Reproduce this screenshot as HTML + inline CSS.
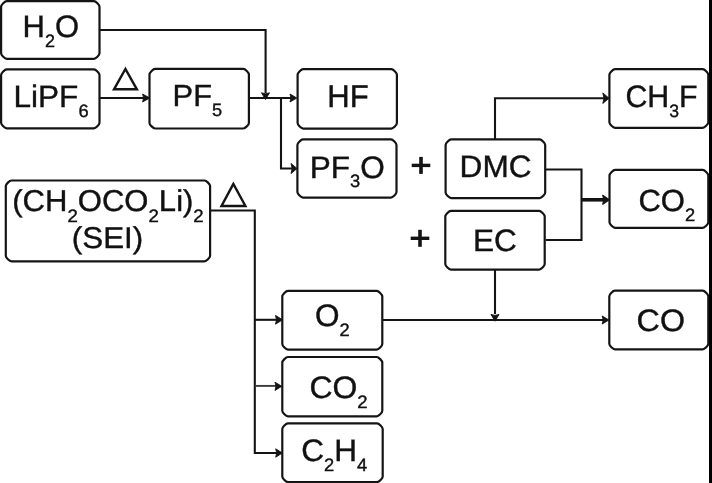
<!DOCTYPE html>
<html><head><meta charset="utf-8"><style>
html,body{margin:0;padding:0;background:#fff;width:712px;height:483px;overflow:hidden;font-family:"Liberation Sans",sans-serif;}
svg{display:block;will-change:transform;}
</style></head><body>
<svg width="712" height="483" viewBox="0 0 712 483">
<rect x="0" y="0" width="712" height="483" fill="#fff"/>
<g fill="none" stroke="#141414" stroke-width="2.2" stroke-linejoin="round">
<path d="M6.70,1.10H93.90C95.75,1.10 99.50,4.85 99.50,6.70V53.30C99.50,55.15 95.75,58.90 93.90,58.90H6.70C4.85,58.90 1.10,55.15 1.10,53.30V6.70C1.10,4.85 4.85,1.10 6.70,1.10Z"/><path d="M6.70,69.30H93.90C95.75,69.30 99.50,73.05 99.50,74.90V122.80C99.50,124.65 95.75,128.40 93.90,128.40H6.70C4.85,128.40 1.10,124.65 1.10,122.80V74.90C1.10,73.05 4.85,69.30 6.70,69.30Z"/><path d="M155.10,68.90H243.30C245.15,68.90 248.90,72.65 248.90,74.50V122.90C248.90,124.75 245.15,128.50 243.30,128.50H155.10C153.25,128.50 149.50,124.75 149.50,122.90V74.50C149.50,72.65 153.25,68.90 155.10,68.90Z"/><path d="M303.20,69.10H391.30C393.15,69.10 396.90,72.85 396.90,74.70V123.00C396.90,124.85 393.15,128.60 391.30,128.60H303.20C301.35,128.60 297.60,124.85 297.60,123.00V74.70C297.60,72.85 301.35,69.10 303.20,69.10Z"/><path d="M303.00,139.40H390.90C392.75,139.40 396.50,143.15 396.50,145.00V192.10C396.50,193.95 392.75,197.70 390.90,197.70H303.00C301.15,197.70 297.40,193.95 297.40,192.10V145.00C297.40,143.15 301.15,139.40 303.00,139.40Z"/><path d="M451.20,139.40H539.60C541.45,139.40 545.20,143.15 545.20,145.00V192.50C545.20,194.35 541.45,198.10 539.60,198.10H451.20C449.35,198.10 445.60,194.35 445.60,192.50V145.00C445.60,143.15 449.35,139.40 451.20,139.40Z"/><path d="M450.90,210.90H539.10C540.95,210.90 544.70,214.65 544.70,216.50V264.10C544.70,265.95 540.95,269.70 539.10,269.70H450.90C449.05,269.70 445.30,265.95 445.30,264.10V216.50C445.30,214.65 449.05,210.90 450.90,210.90Z"/><path d="M615.00,69.10H702.70C704.55,69.10 708.30,72.85 708.30,74.70V122.20C708.30,124.05 704.55,127.80 702.70,127.80H615.00C613.15,127.80 609.40,124.05 609.40,122.20V74.70C609.40,72.85 613.15,69.10 615.00,69.10Z"/><path d="M615.10,169.90H702.70C704.55,169.90 708.30,173.65 708.30,175.50V222.30C708.30,224.15 704.55,227.90 702.70,227.90H615.10C613.25,227.90 609.50,224.15 609.50,222.30V175.50C609.50,173.65 613.25,169.90 615.10,169.90Z"/><path d="M614.90,290.70H702.70C704.55,290.70 708.30,294.45 708.30,296.30V343.80C708.30,345.65 704.55,349.40 702.70,349.40H614.90C613.05,349.40 609.30,345.65 609.30,343.80V296.30C609.30,294.45 613.05,290.70 614.90,290.70Z"/><path d="M11.40,180.50H204.50C206.35,180.50 210.10,184.25 210.10,186.10V255.70C210.10,257.55 206.35,261.30 204.50,261.30H11.40C9.55,261.30 5.80,257.55 5.80,255.70V186.10C5.80,184.25 9.55,180.50 11.40,180.50Z"/><path d="M287.90,290.90H376.70C378.55,290.90 382.30,294.65 382.30,296.50V344.10C382.30,345.95 378.55,349.70 376.70,349.70H287.90C286.05,349.70 282.30,345.95 282.30,344.10V296.50C282.30,294.65 286.05,290.90 287.90,290.90Z"/><path d="M287.90,357.00H376.70C378.55,357.00 382.30,360.75 382.30,362.60V410.80C382.30,412.65 378.55,416.40 376.70,416.40H287.90C286.05,416.40 282.30,412.65 282.30,410.80V362.60C282.30,360.75 286.05,357.00 287.90,357.00Z"/><path d="M287.90,423.40H377.10C378.95,423.40 382.70,427.15 382.70,429.00V476.50C382.70,478.35 378.95,482.10 377.10,482.10H287.90C286.05,482.10 282.30,478.35 282.30,476.50V429.00C282.30,427.15 286.05,423.40 287.90,423.40Z"/>
</g>
<g fill="none" stroke="#141414" stroke-width="2.1" stroke-linejoin="miter" stroke-linecap="butt">
<polyline points="100.00,30.00 265.60,30.00 265.60,93.00" stroke-width="2.1"/><polyline points="100.00,98.00 144.00,98.00" stroke-width="2.1"/><polyline points="250.00,98.00 292.00,98.00" stroke-width="2.1"/><polyline points="281.00,97.00 281.00,168.50 292.00,168.50" stroke-width="2.1"/><polyline points="495.00,139.00 495.00,98.20 604.00,98.20" stroke-width="2.1"/><polyline points="546.00,169.50 581.50,169.50 581.50,240.00 545.50,240.00" stroke-width="2.1"/><polyline points="581.50,199.80 604.00,199.80" stroke-width="3.6"/><polyline points="495.00,270.00 495.00,314.00" stroke-width="2.1"/><polyline points="383.00,320.00 604.00,320.00" stroke-width="2.1"/><polyline points="211.00,210.50 254.80,210.50 254.80,453.00 277.00,453.00" stroke-width="2.1"/><polyline points="254.80,319.80 277.00,319.80" stroke-width="2.1"/><polyline stroke="#3c3c3c" points="254.80,385.90 277.00,385.90" stroke-width="1.9"/>
</g>
<g fill="#141414" stroke="#141414" stroke-width="0.9" stroke-linejoin="round">
<polygon points="265.50,99.60 261.50,92.80 265.50,93.80 269.50,92.80"/><polygon points="149.80,98.00 142.60,94.10 143.60,98.00 142.60,101.90"/><polygon points="296.80,98.00 290.00,94.00 291.00,98.00 290.00,102.00"/><polygon points="297.00,168.50 291.00,163.40 292.20,168.50 291.00,173.60"/><polygon points="609.00,98.20 602.80,92.90 604.00,98.20 602.80,103.50"/><polygon points="609.80,199.80 602.60,195.00 603.60,199.80 602.60,204.60"/><polygon points="495.00,321.20 491.00,314.40 495.00,315.40 499.00,314.40"/><polygon points="609.00,320.00 602.20,316.00 603.20,320.00 602.20,324.00"/><polygon points="282.50,319.80 275.50,315.40 276.50,319.80 275.50,324.20"/><polygon points="281.80,386.30 275.00,382.20 276.00,386.30 275.00,390.40"/><polygon points="282.30,453.00 275.70,448.80 276.70,453.00 275.70,457.20"/>
</g>
<g fill="#141414" stroke="none">
<rect x="411.70" y="163.70" width="18.6" height="3.4"/><rect x="419.20" y="156.90" width="3.6" height="17"/><rect x="410.70" y="236.60" width="18.6" height="3.4"/><rect x="418.20" y="229.80" width="3.6" height="17"/>
</g>
<g fill="none" stroke="#141414" stroke-width="2.4" stroke-linejoin="miter">
<polygon points="125.4,69.0 114.0,89.3 136.9,89.3"/><polygon points="233.4,183.9 221.5,206.0 245.4,206.0"/>
</g>
<g fill="#111" stroke="#111" stroke-width="0.4" text-rendering="geometricPrecision" font-family="'Liberation Sans', sans-serif" font-size="31">
<text transform="translate(22.5,36.8) scale(1.0,1)">H<tspan dy="10.0" font-size="18">2</tspan><tspan dy="-10.0">O</tspan></text>
<text transform="translate(13.5,106.8) scale(1.018,1)">LiPF<tspan dy="10.0" font-size="18">6</tspan></text>
<text transform="translate(172.6,106.0) scale(1.01,1)" font-size="30.5">PF<tspan dy="10.4" font-size="18">5</tspan></text>
<text transform="translate(327.3,107.0) scale(0.985,1)" font-size="31.5">HF</text>
<text transform="translate(309.7,177.5) scale(1.018,1)">PF<tspan dy="9.5" font-size="18">3</tspan><tspan dy="-9.5">O</tspan></text>
<text transform="translate(459.6,177.0) scale(1.018,1)">DMC</text>
<text transform="translate(472.9,251.0) scale(1.018,1)">EC</text>
<text transform="translate(625.4,107.4) scale(0.979,1)">CH<tspan dy="10.0" font-size="18">3</tspan><tspan dy="-10.0">F</tspan></text>
<text transform="translate(638.4,210.8) scale(1.018,1)" font-size="30.5">CO<tspan dy="10.0" font-size="18">2</tspan></text>
<text transform="translate(636.6,330.8) scale(1.04,1)">CO</text>
<text transform="translate(12.2,211.0) scale(1.035,1)" font-size="30">(CH<tspan dy="10.8" font-size="18">2</tspan><tspan dy="-10.8">OCO</tspan><tspan dy="10.8" font-size="18">2</tspan><tspan dy="-10.8">Li)</tspan><tspan dy="10.8" font-size="18">2</tspan></text>
<text transform="translate(71.8,248.0) scale(1.045,1)" font-size="30">(SEI)</text>
<text transform="translate(315.0,325.8) scale(1.018,1)">O<tspan dy="10.0" font-size="18">2</tspan></text>
<text transform="translate(309.4,397.9) scale(1.03,1)">CO<tspan dy="10.0" font-size="18">2</tspan></text>
<text transform="translate(301.3,461.2) scale(1.018,1)">C<tspan dy="10.0" font-size="18">2</tspan><tspan dy="-10.0">H</tspan><tspan dy="10.0" font-size="18">4</tspan></text>
</g>
<rect x="709" y="0" width="3" height="483" fill="#000"/>
</svg>
</body></html>
